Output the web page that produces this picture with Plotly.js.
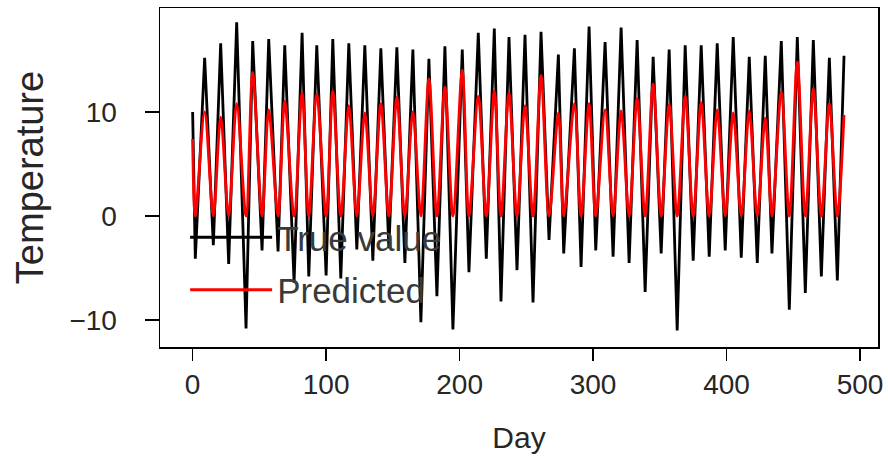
<!DOCTYPE html>
<html>
<head>
<meta charset="utf-8">
<script src="https://cdn.plot.ly/plotly-3.0.1.min.js"></script>
<style>html,body{margin:0;padding:0;background:#fff;}#chart{width:888px;height:461px;}</style>
</head>
<body>
<div id="chart"></div>
<script>
// Values
const startDay = 0;
const trueStart = 10.0;
const predStart = 7.4;

const troughDays = [2, 15.5, 27, 40, 52, 64, 76, 87, 100, 111, 123, 135, 147, 159, 171, 183, 195, 207, 220, 231, 243, 255, 267, 278, 291, 302, 315, 327, 339, 351, 363, 375, 387, 399, 411, 423, 434, 447, 459, 471, 483];
const trueTroughs = [-4.1, -2.8, -4.6, -10.8, -3.3, -3.4, -6.4, -5.8, -5.7, -6.0, -3.2, -4.3, -3.1, -4.5, -10.2, -7.7, -10.9, -5.4, -4.1, -8.2, -5.2, -8.3, -2.3, -3.6, -4.9, -3.3, -3.9, -4.5, -7.3, -3.6, -11.0, -4.3, -3.9, -3.3, -4.0, -4.5, -3.6, -9.0, -7.4, -5.8, -6.2];
const predTroughs = [0, 0, 0, 0, 0, 0, 0, 0, 0, 0, 0, 0, 0, 0, 0, 0, 0, 0, 0, 0, 0, 0, 0, 0, 0, 0, 0, 0, 0, 0, 0, 0, 0, 0, 0, 0, 0, 0, 0, 0, 0];

const peakDays = [9, 21, 33, 45, 57, 69, 82, 93, 105, 117, 129, 141, 153, 165, 177, 189, 202, 214, 226, 237, 249, 261, 274, 286, 297, 309, 321, 333, 345, 357, 369, 381, 393, 405, 417, 429, 441, 453, 465, 477];
const truePeaks = [15.2, 16.6, 18.6, 16.8, 17.0, 16.4, 17.6, 16.4, 17.0, 16.6, 16.4, 16.1, 16.2, 16.0, 15.1, 16.3, 16.0, 17.6, 18.0, 17.2, 17.4, 17.7, 15.5, 16.1, 18.2, 16.7, 18.1, 16.9, 15.3, 16.0, 16.4, 16.4, 16.6, 17.2, 15.3, 15.4, 16.8, 17.2, 16.9, 15.2];
const predPeaks = [10.0, 9.5, 10.8, 13.8, 10.2, 11.0, 11.8, 11.7, 12.0, 10.6, 9.9, 10.8, 11.4, 10.0, 13.2, 12.4, 14.0, 11.5, 12.0, 11.8, 10.6, 13.5, 9.9, 10.8, 10.8, 10.2, 10.1, 11.3, 12.7, 10.7, 11.5, 10.9, 10.2, 9.9, 10.1, 9.4, 11.9, 14.8, 12.2, 10.8];

const endDay = 488;
const trueEnd = 15.4;
const predEnd = 9.7;

const seriesNames = ["True value", "Predicted"];
const xTickVals = [0, 100, 200, 300, 400, 500];
const yTickVals = [-10, 0, 10];

// assemble the alternating trough/peak sequences
function build(startV, troughV, peakV, endV) {
  const xs = [startDay], ys = [startV];
  for (let i = 0; i < troughDays.length; i++) {
    xs.push(troughDays[i]); ys.push(troughV[i]);
    if (i < peakDays.length) { xs.push(peakDays[i]); ys.push(peakV[i]); }
  }
  xs.push(endDay); ys.push(endV);
  return {xs, ys};
}
const t = build(trueStart, trueTroughs, truePeaks, trueEnd);
const p = build(predStart, predTroughs, predPeaks, predEnd);

const font = "Liberation Sans, Arial, sans-serif";
const data = [
  {x: t.xs, y: t.ys, mode: "lines", name: seriesNames[0], legendgroup: "a",
   line: {color: "#000000", width: 2.8}},
  {x: p.xs, y: p.ys, mode: "lines", name: seriesNames[1], legendgroup: "b",
   line: {color: "#ff0000", width: 2.8, shape: "spline", smoothing: 0.9}}
];
const layout = {
  width: 888, height: 461,
  margin: {l: 160, r: 10, t: 8, b: 114},
  paper_bgcolor: "#ffffff", plot_bgcolor: "#ffffff",
  font: {family: font, size: 28, color: "#262626"},
  showlegend: true,
  legend: {x: 0.035, y: 0.41, xanchor: "left", yanchor: "top", bgcolor: "rgba(0,0,0,0)",
           font: {size: 35, color: "#3a3a3a"}, tracegroupgap: 4, itemwidth: 82},
  xaxis: {range: [-24.45, 513.45], tickvals: xTickVals, ticks: "outside", ticklen: 12, tickwidth: 1.5,
          tickcolor: "#000", showline: true, mirror: true, linecolor: "#000", linewidth: 1.5,
          showgrid: false, zeroline: false,
          title: {text: "Day", standoff: 28, font: {size: 30}}},
  yaxis: {range: [-12.58, 19.98], tickvals: yTickVals, ticks: "outside", ticklen: 14, tickwidth: 1.5,
          tickcolor: "#000", showline: true, mirror: true, linecolor: "#000", linewidth: 1.5,
          showgrid: false, zeroline: false, ticklabelstandoff: 22,
          title: {text: "Temperature", standoff: 14, font: {size: 38}}}
};
Plotly.newPlot("chart", data, layout, {displayModeBar: false, staticPlot: true});
</script>
</body>
</html>
